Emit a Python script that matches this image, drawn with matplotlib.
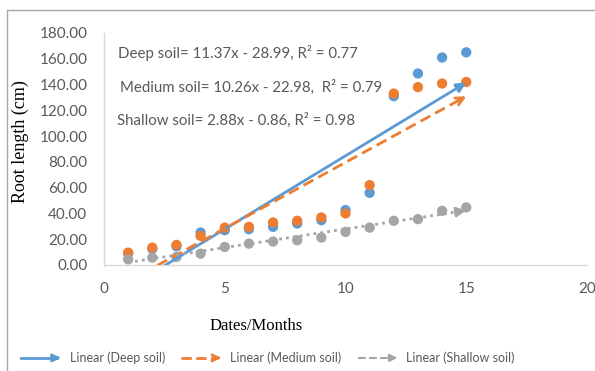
import numpy as np
import matplotlib
matplotlib.use("Agg")
import matplotlib.pyplot as plt
from matplotlib.lines import Line2D
from matplotlib.patches import FancyArrowPatch, Rectangle
from matplotlib.legend_handler import HandlerBase

# --- data
months = [1, 2, 3, 4, 5, 6, 7, 8, 9, 10, 11, 12, 13, 14, 15]
deep = [9.0, 12.5, 14.5, 25.2, 27.0, 27.8, 29.6, 32.2, 34.8, 42.6, 56.0, 131.0, 148.6, 161.0, 165.0]
medium = [9.6, 13.5, 15.6, 22.6, 29.0, 29.6, 33.0, 34.3, 36.9, 40.0, 62.0, 133.0, 138.0, 140.8, 142.0]
shallow = [4.4, 5.7, 6.2, 8.8, 14.0, 16.6, 18.2, 19.2, 21.3, 25.7, 29.0, 34.3, 35.6, 42.0, 44.7]

# trendline coefficients (slope, intercept) as printed on the chart
fit_deep = (11.37, -28.99)
fit_medium = (10.26, -22.98)
fit_shallow = (2.88, -0.86)

eq_labels = ["Deep soil= 11.37x - 28.99, R\u00b2 = 0.77",
             "Medium soil= 10.26x - 22.98,  R\u00b2 = 0.79",
             "Shallow soil= 2.88x - 0.86, R\u00b2 = 0.98"]
legend_labels = ["Linear (Deep soil)", "Linear (Medium soil)", "Linear (Shallow soil)"]

c_blue = "#5B9BD5"
c_orange = "#ED7D31"
c_gray = "#A5A5A5"
txt_col = "#595959"
ui_font = "Lato"

W, H = 595, 371
fig = plt.figure(figsize=(W / 100, H / 100), dpi=100)
ax = fig.add_axes([104/W, 1-265/H, (587-104)/W, (265-33)/H])

# frame around the chart
fig.patches.append(Rectangle((7/W, -0.05), 1.2, 1-10/H+0.05, transform=fig.transFigure,
                             fill=False, edgecolor="#a6a6a6", linewidth=1.0))

# scatter points
ax.scatter(months, deep, s=55, color=c_blue, zorder=3, edgecolors="none")
ax.scatter(months, medium, s=55, color=c_orange, zorder=3, edgecolors="none")
ax.scatter(months, shallow, s=55, color=c_gray, zorder=3, edgecolors="none")

# trendlines with arrow heads
x0, x1 = months[0], months[-1]
trend = [(fit_deep, c_blue, "-", "-|>", 2.0),
         (fit_medium, c_orange, (0, (4, 2)), "->", 2.0),
         (fit_shallow, c_gray, (0, (1, 1.5)), "-|>", 2.0)]
for (m, b), col, ls, head, lw in trend:
    xs = np.array([x0, x1 - 0.25])
    ys = m * xs + b
    ax.plot(xs, ys, color=col, linestyle=ls, linewidth=lw, zorder=4)
    ax.annotate("", xy=(x1, m * x1 + b), xytext=(x1 - 0.4, m * (x1 - 0.4) + b),
                arrowprops=dict(arrowstyle=head, color=col, lw=lw, mutation_scale=14,
                                shrinkA=0, shrinkB=0), zorder=5)

ax.set_xlim(0, 20)
ax.set_ylim(0, 180)
ax.set_xticks([0, 5, 10, 15, 20])
ax.set_yticks(np.arange(0, 181, 20))
ax.set_yticklabels([f"{v:.2f}" for v in np.arange(0, 181, 20)])
ax.tick_params(length=0, labelsize=11, labelcolor=txt_col)
for lab in ax.get_xticklabels() + ax.get_yticklabels():
    lab.set_fontfamily(ui_font)
ax.tick_params(axis="y", pad=12)
ax.tick_params(axis="x", pad=12)
for s in ["top", "right"]:
    ax.spines[s].set_visible(False)
for s in ["left", "bottom"]:
    ax.spines[s].set_color("#d9d9d9")
    ax.spines[s].set_linewidth(1.0)

ax.set_xlabel("Dates/Months", fontfamily="Liberation Serif", fontsize=12)
ax.set_ylabel("Root length (cm)", fontfamily="Liberation Serif", fontsize=13)
ax.xaxis.set_label_coords((256 - 104) / 483, -(318 - 265) / 232)
ax.yaxis.set_label_coords(-(104 - 29) / 483, (265 - 142) / 232)

# regression equations (pixel positions from top-left of the image)
eq_x = [118, 120, 117]
eq_y = [53, 87, 120]
for t, px, py in zip(eq_labels, eq_x, eq_y):
    fig.text(px / W, 1 - py / H, t, fontsize=10.8, color=txt_col,
             fontfamily=ui_font, va="center", ha="left")


class ArrowHandler(HandlerBase):
    def __init__(self, head):
        super().__init__()
        self.head = head

    def create_artists(self, legend, orig_handle, xdescent, ydescent, width, height, fontsize, trans):
        y = height / 2 - ydescent
        xa, xb = -xdescent, width - xdescent
        line = Line2D([xa, xb - 5], [y, y], color=orig_handle.get_color(),
                      linestyle=orig_handle.get_linestyle(), linewidth=orig_handle.get_linewidth(),
                      transform=trans)
        arr = FancyArrowPatch((xb - 8, y), (xb, y), arrowstyle=self.head, color=orig_handle.get_color(),
                              lw=orig_handle.get_linewidth(), mutation_scale=11, transform=trans)
        return [line, arr]


h1 = Line2D([], [], color=c_blue, linestyle="-", linewidth=2)
h2 = Line2D([], [], color=c_orange, linestyle=(0, (3, 1.5)), linewidth=2)
h3 = Line2D([], [], color=c_gray, linestyle=(0, (1, 1.5)), linewidth=1.5)
leg = fig.legend([h1, h2, h3], legend_labels, loc="center", bbox_to_anchor=(268 / W, 1 - 358/H),
                 ncol=3, frameon=False, handlelength=3.4, handletextpad=0.5, columnspacing=1.3,
                 prop={"family": ui_font, "size": 9},
                 handler_map={h1: ArrowHandler("-|>"), h2: ArrowHandler("->"), h3: ArrowHandler("-|>")})
for t in leg.get_texts():
    t.set_color(txt_col)

fig.savefig("out.png", dpi=100)
